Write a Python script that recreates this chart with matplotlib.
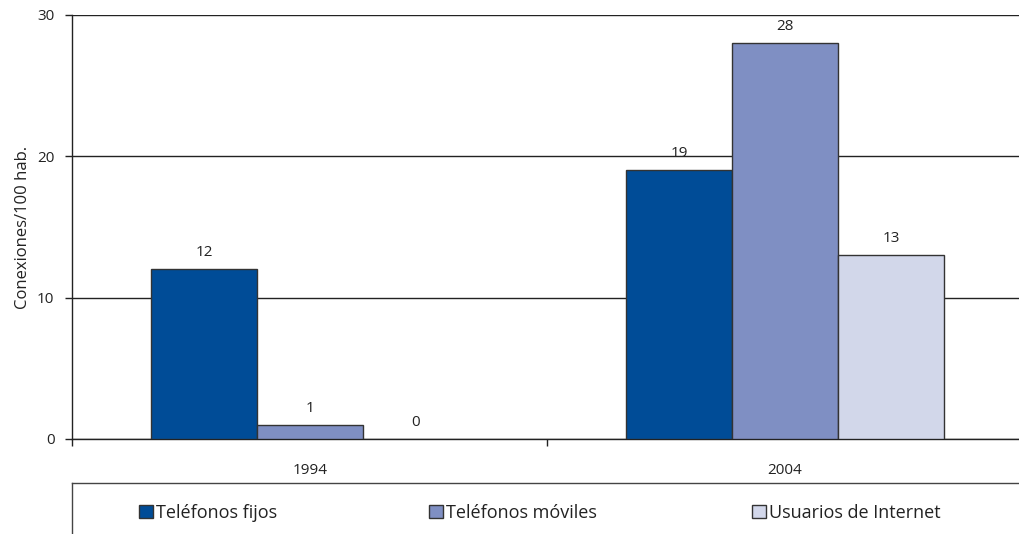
import numpy as np
import matplotlib
matplotlib.use('Agg')
import matplotlib.pyplot as plt
from matplotlib.lines import Line2D
from matplotlib.patches import Patch

plt.rcParams['font.family'] = ['Open Sans', 'DejaVu Sans']

# =========================
# DATA
# =========================
years    = ['1994', '2004']
series   = ['Teléfonos fijos', 'Teléfonos móviles', 'Usuarios de Internet']
fijos    = [12, 19]
moviles  = [1, 28]
internet = [0, 13]
values   = [fijos, moviles, internet]
colors   = ['#004C97', '#7F8FC3', '#D2D7EA']

W, H = 1020, 534
fig = plt.figure(figsize=(W / 100, H / 100), dpi=100)
ax = fig.add_axes([72.5 / W, (H - 439) / H, 950 / W, 424 / H])

x = np.arange(len(years))
w = 0.223
for i, (vals, col) in enumerate(zip(values, colors)):
    lws = [1 if v > 0 else 0 for v in vals]
    bars = ax.bar(x + (i - 1) * w, vals, w, color=col,
                  edgecolor='#333333', linewidth=lws, zorder=3)
    for bar, v in zip(bars, vals):
        ax.annotate(f'{v}', (bar.get_x() + bar.get_width() / 2, v),
                    xytext=(0, 12), textcoords='offset points',
                    ha='center', va='center', fontsize=11, color='#222222')

ax.set_xlim(-0.5, 1.5)
ax.set_ylim(0, 30)
ax.set_yticks([0, 10, 20, 30])
ax.yaxis.grid(True, color='#222222', linewidth=1, zorder=0)
ax.tick_params(axis='y', length=5, width=1, color='#222222',
               labelsize=11, labelcolor='#222222', pad=8)

# ticks between categories, labels at the category centres
ax.set_xticks([-0.5, 0.5, 1.5])
ax.set_xticklabels([])
ax.set_xticks(x, minor=True)
ax.set_xticklabels(years, minor=True)
ax.tick_params(axis='x', which='major', length=5, width=1, color='#222222')
ax.tick_params(axis='x', which='minor', length=0, pad=17,
               labelsize=11, labelcolor='#222222')

for s in ['top', 'right']:
    ax.spines[s].set_visible(False)
for s in ['left', 'bottom']:
    ax.spines[s].set_color('#222222')
    ax.spines[s].set_linewidth(1)

ax.set_ylabel('Conexiones/100 hab.', fontsize=12, color='#222222')
ax.yaxis.set_label_coords((31 - 72.5) / 950, 0.5)

# legend frame (only left and top edges are visible in the picture)
lx, ly = 72 / W, (H - 483) / H
fig.add_artist(Line2D([lx, lx], [0, ly], transform=fig.transFigure,
                      color='#444444', linewidth=1))
fig.add_artist(Line2D([lx, 1], [ly, ly], transform=fig.transFigure,
                      color='#444444', linewidth=1))

leg_x = [139, 429, 752]
for name, col, px in zip(series, colors, leg_x):
    h = Patch(facecolor=col, edgecolor='#333333', linewidth=1)
    fig.legend(handles=[h], labels=[name], loc='center left',
               bbox_to_anchor=(px / W, (H - 513) / H), frameon=False,
               fontsize=13, handlelength=0.75, handleheight=0.75,
               handletextpad=0.2, borderpad=0, borderaxespad=0,
               labelcolor='#222222')

fig.savefig('out.png', dpi=100)
plt.close(fig)
